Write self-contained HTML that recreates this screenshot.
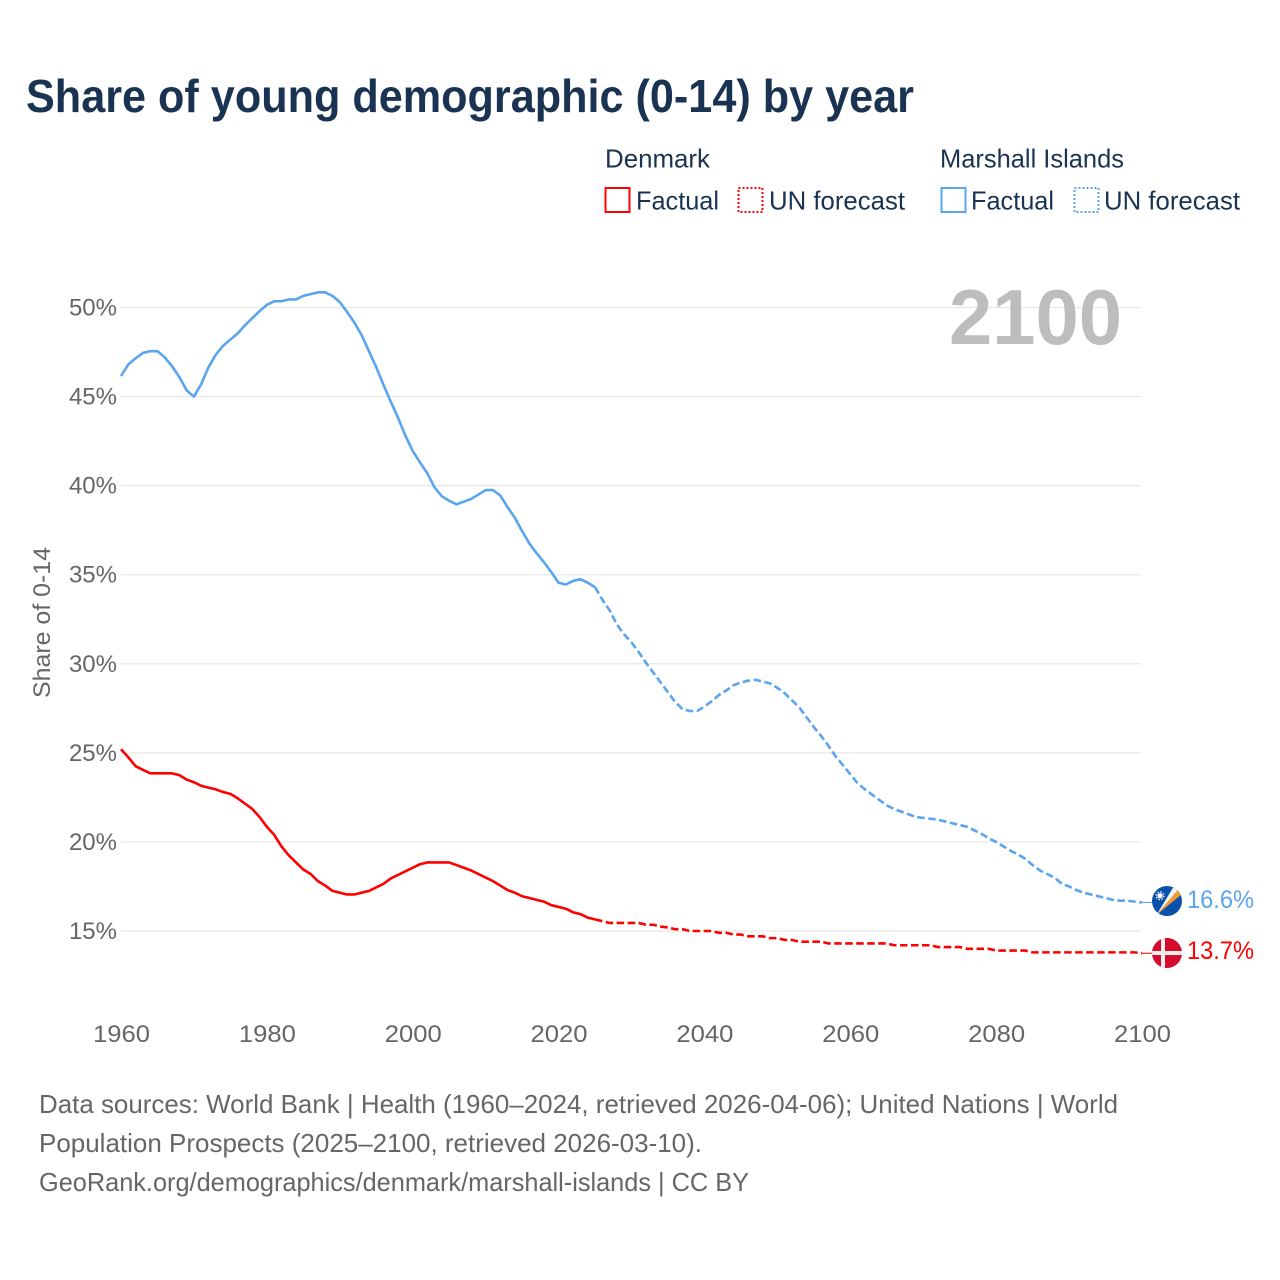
<!DOCTYPE html>
<html lang="en">
<head>
<meta charset="utf-8">
<title>Share of young demographic (0-14) by year</title>
<style>
html,body{margin:0;padding:0;background:#fff}
svg{display:block}
text{font-family:"Liberation Sans",Arial,sans-serif}
</style>
</head>
<body>
<svg id="chart" xmlns="http://www.w3.org/2000/svg" width="1280" height="1280" viewBox="0 0 1280 1280">
<rect x="0" y="0" width="1280" height="1280" fill="#fff"/>
<text x="26" y="112" font-size="46" font-weight="700" fill="#1a3353" textLength="888" lengthAdjust="spacingAndGlyphs">Share of young demographic (0-14) by year</text>

<g fill="#1a3353" font-size="26">
<text x="605" y="167.5" textLength="105" lengthAdjust="spacingAndGlyphs">Denmark</text>
<text x="940" y="167.5" textLength="184" lengthAdjust="spacingAndGlyphs">Marshall Islands</text>
<rect x="605.5" y="188" width="24" height="24" fill="none" stroke="#ff0000" stroke-width="2"/>
<text x="636" y="209.5" textLength="83" lengthAdjust="spacingAndGlyphs">Factual</text>
<rect x="738.5" y="188" width="24" height="24" fill="none" stroke="#ff0000" stroke-width="2" stroke-dasharray="2 2"/>
<text x="769" y="209.5" textLength="136" lengthAdjust="spacingAndGlyphs">UN forecast</text>
<rect x="941.5" y="188" width="24" height="24" fill="none" stroke="#5aa5ee" stroke-width="2"/>
<text x="971" y="209.5" textLength="83" lengthAdjust="spacingAndGlyphs">Factual</text>
<rect x="1074.5" y="188" width="24" height="24" fill="none" stroke="#5aa5ee" stroke-width="2" stroke-dasharray="2 2"/>
<text x="1104" y="209.5" textLength="136" lengthAdjust="spacingAndGlyphs">UN forecast</text>
</g>

<g id="grid"></g>
<g id="yticks"></g>
<g id="xticks"></g>
<text transform="translate(50,698) rotate(-90)" font-size="24" fill="#666" textLength="151" lengthAdjust="spacingAndGlyphs">Share of 0-14</text>
<text x="949" y="344" font-size="78" font-weight="700" fill="#bdbdbd" textLength="173" lengthAdjust="spacingAndGlyphs">2100</text>
<g id="series"></g>

<defs>
<clipPath id="clip-mh"><circle cx="1167" cy="901" r="15"/></clipPath>
<clipPath id="clip-dk"><circle cx="1167" cy="953" r="15"/></clipPath>
</defs>
<g clip-path="url(#clip-mh)">
<rect x="1152" y="886" width="30" height="30" fill="#0a50ad"/>
<polygon points="1156.5,915 1179,888.5 1182,894" fill="#f39a2b"/>
<polygon points="1156.5,915 1174,886 1179,888.5" fill="#f4f4f4"/>
<circle cx="1160" cy="895.7" r="2.6" fill="#fff"/>
<circle cx="1160" cy="895.7" r="3.8" fill="none" stroke="#fff" stroke-width="1.4" stroke-dasharray="1.5 1.5"/>
</g>
<g clip-path="url(#clip-dk)">
<rect x="1152" y="938" width="30" height="30" fill="#d50c2d"/>
<rect x="1161" y="938" width="4" height="30" fill="#eee"/>
<rect x="1152" y="951" width="30" height="4" fill="#eee"/>
</g>
<text x="1187" y="908" font-size="25" fill="#5aa5ee" textLength="67" lengthAdjust="spacingAndGlyphs">16.6%</text>
<text x="1187" y="959" font-size="25" fill="#ff0000" textLength="67" lengthAdjust="spacingAndGlyphs">13.7%</text>

<g font-size="26" fill="#666">
<text x="39" y="1113" textLength="1079" lengthAdjust="spacingAndGlyphs">Data sources: World Bank | Health (1960–2024, retrieved 2026-04-06); United Nations | World</text>
<text x="39" y="1152" textLength="663" lengthAdjust="spacingAndGlyphs">Population Prospects (2025–2100, retrieved 2026-03-10).</text>
<text x="39" y="1191" textLength="710" lengthAdjust="spacingAndGlyphs">GeoRank.org/demographics/denmark/marshall-islands | CC BY</text>
</g>
</svg>
<script>
const startYear = 1960;
const forecastStartYear = 2025;
const yTickValues = [15, 20, 25, 30, 35, 40, 45, 50];
const xTickValues = [1960, 1980, 2000, 2020, 2040, 2060, 2080, 2100];
const marshallValues = [
46.15,46.8,47.15,47.45,47.55,47.55,47.2,46.7,46.1,45.35,
45.0,45.7,46.65,47.35,47.85,48.2,48.55,49.0,49.4,49.8,
50.15,50.35,50.35,50.45,50.45,50.65,50.75,50.85,50.85,50.65,
50.3,49.75,49.15,48.45,47.55,46.65,45.65,44.7,43.8,42.8,
41.95,41.3,40.7,39.9,39.4,39.15,38.95,39.1,39.25,39.5,
39.75,39.75,39.45,38.8,38.2,37.45,36.75,36.2,35.7,35.15,
34.55,34.45,34.65,34.75,34.55,34.3,33.6,33.0,32.2,31.65,
31.2,30.65,30.05,29.5,28.95,28.4,27.85,27.45,27.35,27.35,
27.6,27.9,28.25,28.5,28.8,28.95,29.05,29.1,29.0,28.9,
28.65,28.35,27.95,27.55,27.0,26.45,25.95,25.4,24.8,24.3,
23.8,23.3,22.95,22.65,22.35,22.05,21.85,21.7,21.55,21.4,
21.35,21.3,21.25,21.15,21.05,20.95,20.85,20.65,20.45,20.2,
20.0,19.75,19.5,19.3,19.05,18.7,18.4,18.2,18.0,17.65,
17.5,17.3,17.15,17.05,16.95,16.85,16.75,16.7,16.7,16.65,
16.6];
const denmarkValues = [
25.2,24.75,24.25,24.05,23.85,23.85,23.85,23.85,23.75,23.5,
23.35,23.15,23.05,22.95,22.8,22.7,22.45,22.15,21.85,21.4,
20.85,20.4,19.75,19.25,18.85,18.45,18.2,17.8,17.55,17.25,
17.15,17.05,17.05,17.15,17.25,17.45,17.65,17.95,18.15,18.35,
18.55,18.75,18.85,18.85,18.85,18.85,18.7,18.55,18.4,18.2,
18.0,17.8,17.55,17.3,17.15,16.95,16.85,16.75,16.65,16.45,
16.35,16.25,16.05,15.95,15.75,15.65,15.55,15.45,15.45,15.45,
15.45,15.45,15.35,15.35,15.25,15.2,15.1,15.1,15.0,15.0,
15.0,15.0,14.9,14.9,14.8,14.8,14.7,14.7,14.7,14.6,
14.6,14.5,14.5,14.4,14.4,14.4,14.4,14.3,14.3,14.3,
14.3,14.3,14.3,14.3,14.3,14.3,14.2,14.2,14.2,14.2,
14.2,14.2,14.1,14.1,14.1,14.1,14.0,14.0,14.0,14.0,
13.9,13.9,13.9,13.9,13.9,13.8,13.8,13.8,13.8,13.8,
13.8,13.8,13.8,13.8,13.8,13.8,13.8,13.8,13.8,13.8,
13.75];

const SVG_NS = 'http://www.w3.org/2000/svg';
function xScale(year) { return 121 + (year - 1960) * (1142 - 121) / 140; }
function yScale(pct) { return 307.5 + (50 - pct) * (931 - 307.5) / 35; }

const gridGroup = document.getElementById('grid');
const yTickGroup = document.getElementById('yticks');
const xTickGroup = document.getElementById('xticks');
const seriesGroup = document.getElementById('series');

yTickValues.forEach(function (v) {
  const line = document.createElementNS(SVG_NS, 'line');
  
  
  line.setAttribute('x1', 121);
  line.setAttribute('x2', 1141);
  line.setAttribute('y1', yScale(v));
  line.setAttribute('y2', yScale(v));
  line.setAttribute('stroke', '#e8e8e8');
  line.setAttribute('stroke-width', '1.2');
  gridGroup.appendChild(line);

  const label = document.createElementNS(SVG_NS, 'text');
  
  
  label.setAttribute('x', 117);
  label.setAttribute('y', yScale(v) + 8);
  label.setAttribute('text-anchor', 'end');
  label.setAttribute('font-size', '24');
  label.setAttribute('fill', '#666');
  label.textContent = v + '%';
  yTickGroup.appendChild(label);
});

xTickValues.forEach(function (year) {
  const label = document.createElementNS(SVG_NS, 'text');
  
  
  label.setAttribute('x', xScale(year) - 28);
  label.setAttribute('y', 1042);
  label.setAttribute('font-size', '24');
  label.setAttribute('fill', '#666');
  label.setAttribute('textLength', '57');
  label.setAttribute('lengthAdjust', 'spacingAndGlyphs');
  label.textContent = year;
  xTickGroup.appendChild(label);
});

function pathFor(values, fromYear, toYear) {
  const pts = [];
  values.forEach(function (v, i) {
    const year = startYear + i;
    if (year >= fromYear && year <= toYear) {
      pts.push(xScale(year).toFixed(2) + ',' + yScale(v).toFixed(2));
    }
  });
  return 'M' + pts.join('L');
}

function drawSeries(values, color, key) {
  const lastYear = startYear + values.length - 1;
  const solid = document.createElementNS(SVG_NS, 'path');
  
  
  solid.setAttribute('d', pathFor(values, startYear, forecastStartYear));
  solid.setAttribute('fill', 'none');
  solid.setAttribute('stroke', color);
  solid.setAttribute('stroke-width', '2.6');
  solid.setAttribute('stroke-linejoin', 'round');
  seriesGroup.appendChild(solid);

  const dashed = document.createElementNS(SVG_NS, 'path');
  
  
  dashed.setAttribute('d', pathFor(values, forecastStartYear, lastYear));
  dashed.setAttribute('fill', 'none');
  dashed.setAttribute('stroke', color);
  dashed.setAttribute('stroke-width', '2.6');
  dashed.setAttribute('stroke-dasharray', '7.5 3.5');
  seriesGroup.appendChild(dashed);

  const leader = document.createElementNS(SVG_NS, 'line');
  
  
  leader.setAttribute('x1', xScale(lastYear));
  leader.setAttribute('x2', 1153);
  leader.setAttribute('y1', yScale(values[values.length - 1]));
  leader.setAttribute('y2', yScale(values[values.length - 1]));
  leader.setAttribute('stroke', color);
  leader.setAttribute('stroke-width', '1');
  seriesGroup.appendChild(leader);
}

drawSeries(marshallValues, '#5aa5ee', 'marshall-islands');
drawSeries(denmarkValues, '#ff0000', 'denmark');
</script>
</body>
</html>
